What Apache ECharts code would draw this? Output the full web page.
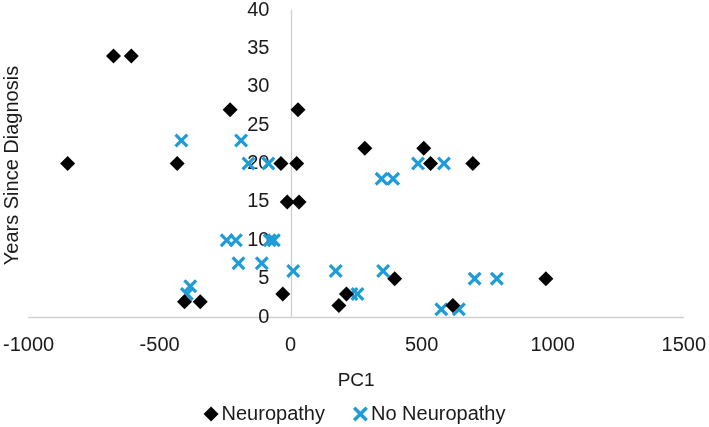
<!DOCTYPE html>
<html>
<head>
<meta charset="utf-8">
<script src="https://cdn.jsdelivr.net/npm/echarts@6/dist/echarts.min.js"></script>
<style>
html,body{margin:0;padding:0;background:#fff;}
#chart{width:709px;height:427px;}
</style>
</head>
<body>
<div id="chart"></div>
<script>
// Neuropathy series: [PC1, Years Since Diagnosis]
var neuropathyPC1 = [-676, -608, -851, -433, -231, 28, -37, 23, -13, 32, 283, 508, 534, 695, -405, -345, -30, 184, 213, 397, 974, 619];
var neuropathyYears = [34, 34, 20, 20, 27, 27, 20, 20, 15, 15, 22, 22, 20, 20, 2, 2, 3, 1.5, 3, 5, 5, 1.5];

// No Neuropathy series
var noNeuropathyPC1 = [-417, -189, -161, -85, 486, 585, 347, 391, -244, -209, -80, -64, -199, -110, 10, 172, 353, -383, -396, 232, 255, 702, 787, 575, 642];
var noNeuropathyYears = [23, 23, 20, 20, 20, 20, 18, 18, 10, 10, 10, 10, 7, 7, 6, 6, 6, 4, 3, 3, 3, 5, 5, 1, 1];

var xTicks = [-1000, -500, 0, 500, 1000, 1500];
var yTicks = [0, 5, 10, 15, 20, 25, 30, 35, 40];

function zip(a, b) { return a.map(function (v, i) { return [v, b[i]]; }); }

var FONT = 'Liberation Sans';
var TXT = '#1a1a1a';
var BLUE = '#1f9cd8';
var xPath = 'path://M0,2.3 L2.3,0 L7,4.7 L11.7,0 L14,2.3 L9.3,7 L14,11.7 L11.7,14 L7,9.3 L2.3,14 L0,11.7 L4.7,7 Z';

var GRID = { left: 28, right: 24, top: 10, bottom: 110 };
var W = 709, H = 427;
var plotW = W - GRID.left - GRID.right;
var xMin = xTicks[0], xMax = xTicks[xTicks.length - 1];
// move y-axis (with labels) to x = 0 through the value scale
var yAxisOffset = -plotW * (0 - xMin) / (xMax - xMin);

var chart = echarts.init(document.getElementById('chart'), null, { renderer: 'canvas' });
chart.setOption({
  animation: false,
  backgroundColor: '#ffffff',
  textStyle: { fontFamily: FONT },
  grid: { left: GRID.left, right: GRID.right, top: GRID.top, bottom: GRID.bottom, containLabel: false },
  xAxis: {
    type: 'value',
    min: xMin, max: xMax, interval: 500,
    name: 'PC1', nameLocation: 'middle', nameGap: 54, nameMoveOverlap: false,
    nameTextStyle: { fontFamily: FONT, fontSize: 19, color: TXT },
    axisLine: { show: true, onZero: false, lineStyle: { color: '#d0d0d0', width: 1.3 } },
    axisTick: { show: false },
    splitLine: { show: false },
    axisLabel: { fontFamily: FONT, fontSize: 20, color: TXT, margin: 18,
      formatter: function (v) { return String(v); } }
  },
  yAxis: {
    type: 'value', position: 'left', offset: yAxisOffset,
    min: yTicks[0], max: yTicks[yTicks.length - 1], interval: 5,
    axisLine: { show: true, onZero: false, lineStyle: { color: '#d0d0d0', width: 1.3 } },
    axisTick: { show: false },
    splitLine: { show: false },
    axisLabel: { fontFamily: FONT, fontSize: 20, color: TXT, margin: 22,
      formatter: function (v) { return String(v); } }
  },
  graphic: [{
    type: 'text',
    x: 12, y: 165.5,
    rotation: Math.PI / 2,
    style: { text: 'Years Since Diagnosis', x: 0, y: 0, align: 'center', verticalAlign: 'middle',
      fontFamily: FONT, fontSize: 20, fill: TXT }
  }],
  legend: {
    top: 399, left: 'center',
    itemWidth: 15, itemHeight: 15, itemGap: 28,
    textStyle: { fontFamily: FONT, fontSize: 20, color: TXT, padding: [0, 0, 0, -2] },
    data: [
      { name: 'Neuropathy', icon: 'diamond', itemStyle: { color: '#000', opacity: 1 } },
      { name: 'No Neuropathy', icon: xPath, itemStyle: { color: BLUE, opacity: 1 } }
    ]
  },
  series: [
    {
      name: 'Neuropathy', type: 'scatter', symbol: 'diamond', symbolSize: 15,
      itemStyle: { color: '#000000', opacity: 1 },
      data: zip(neuropathyPC1, neuropathyYears), z: 3
    },
    {
      name: 'No Neuropathy', type: 'scatter', symbol: xPath, symbolSize: 14,
      itemStyle: { color: BLUE, opacity: 1 },
      data: zip(noNeuropathyPC1, noNeuropathyYears), z: 2
    }
  ]
});
</script>
</body>
</html>
